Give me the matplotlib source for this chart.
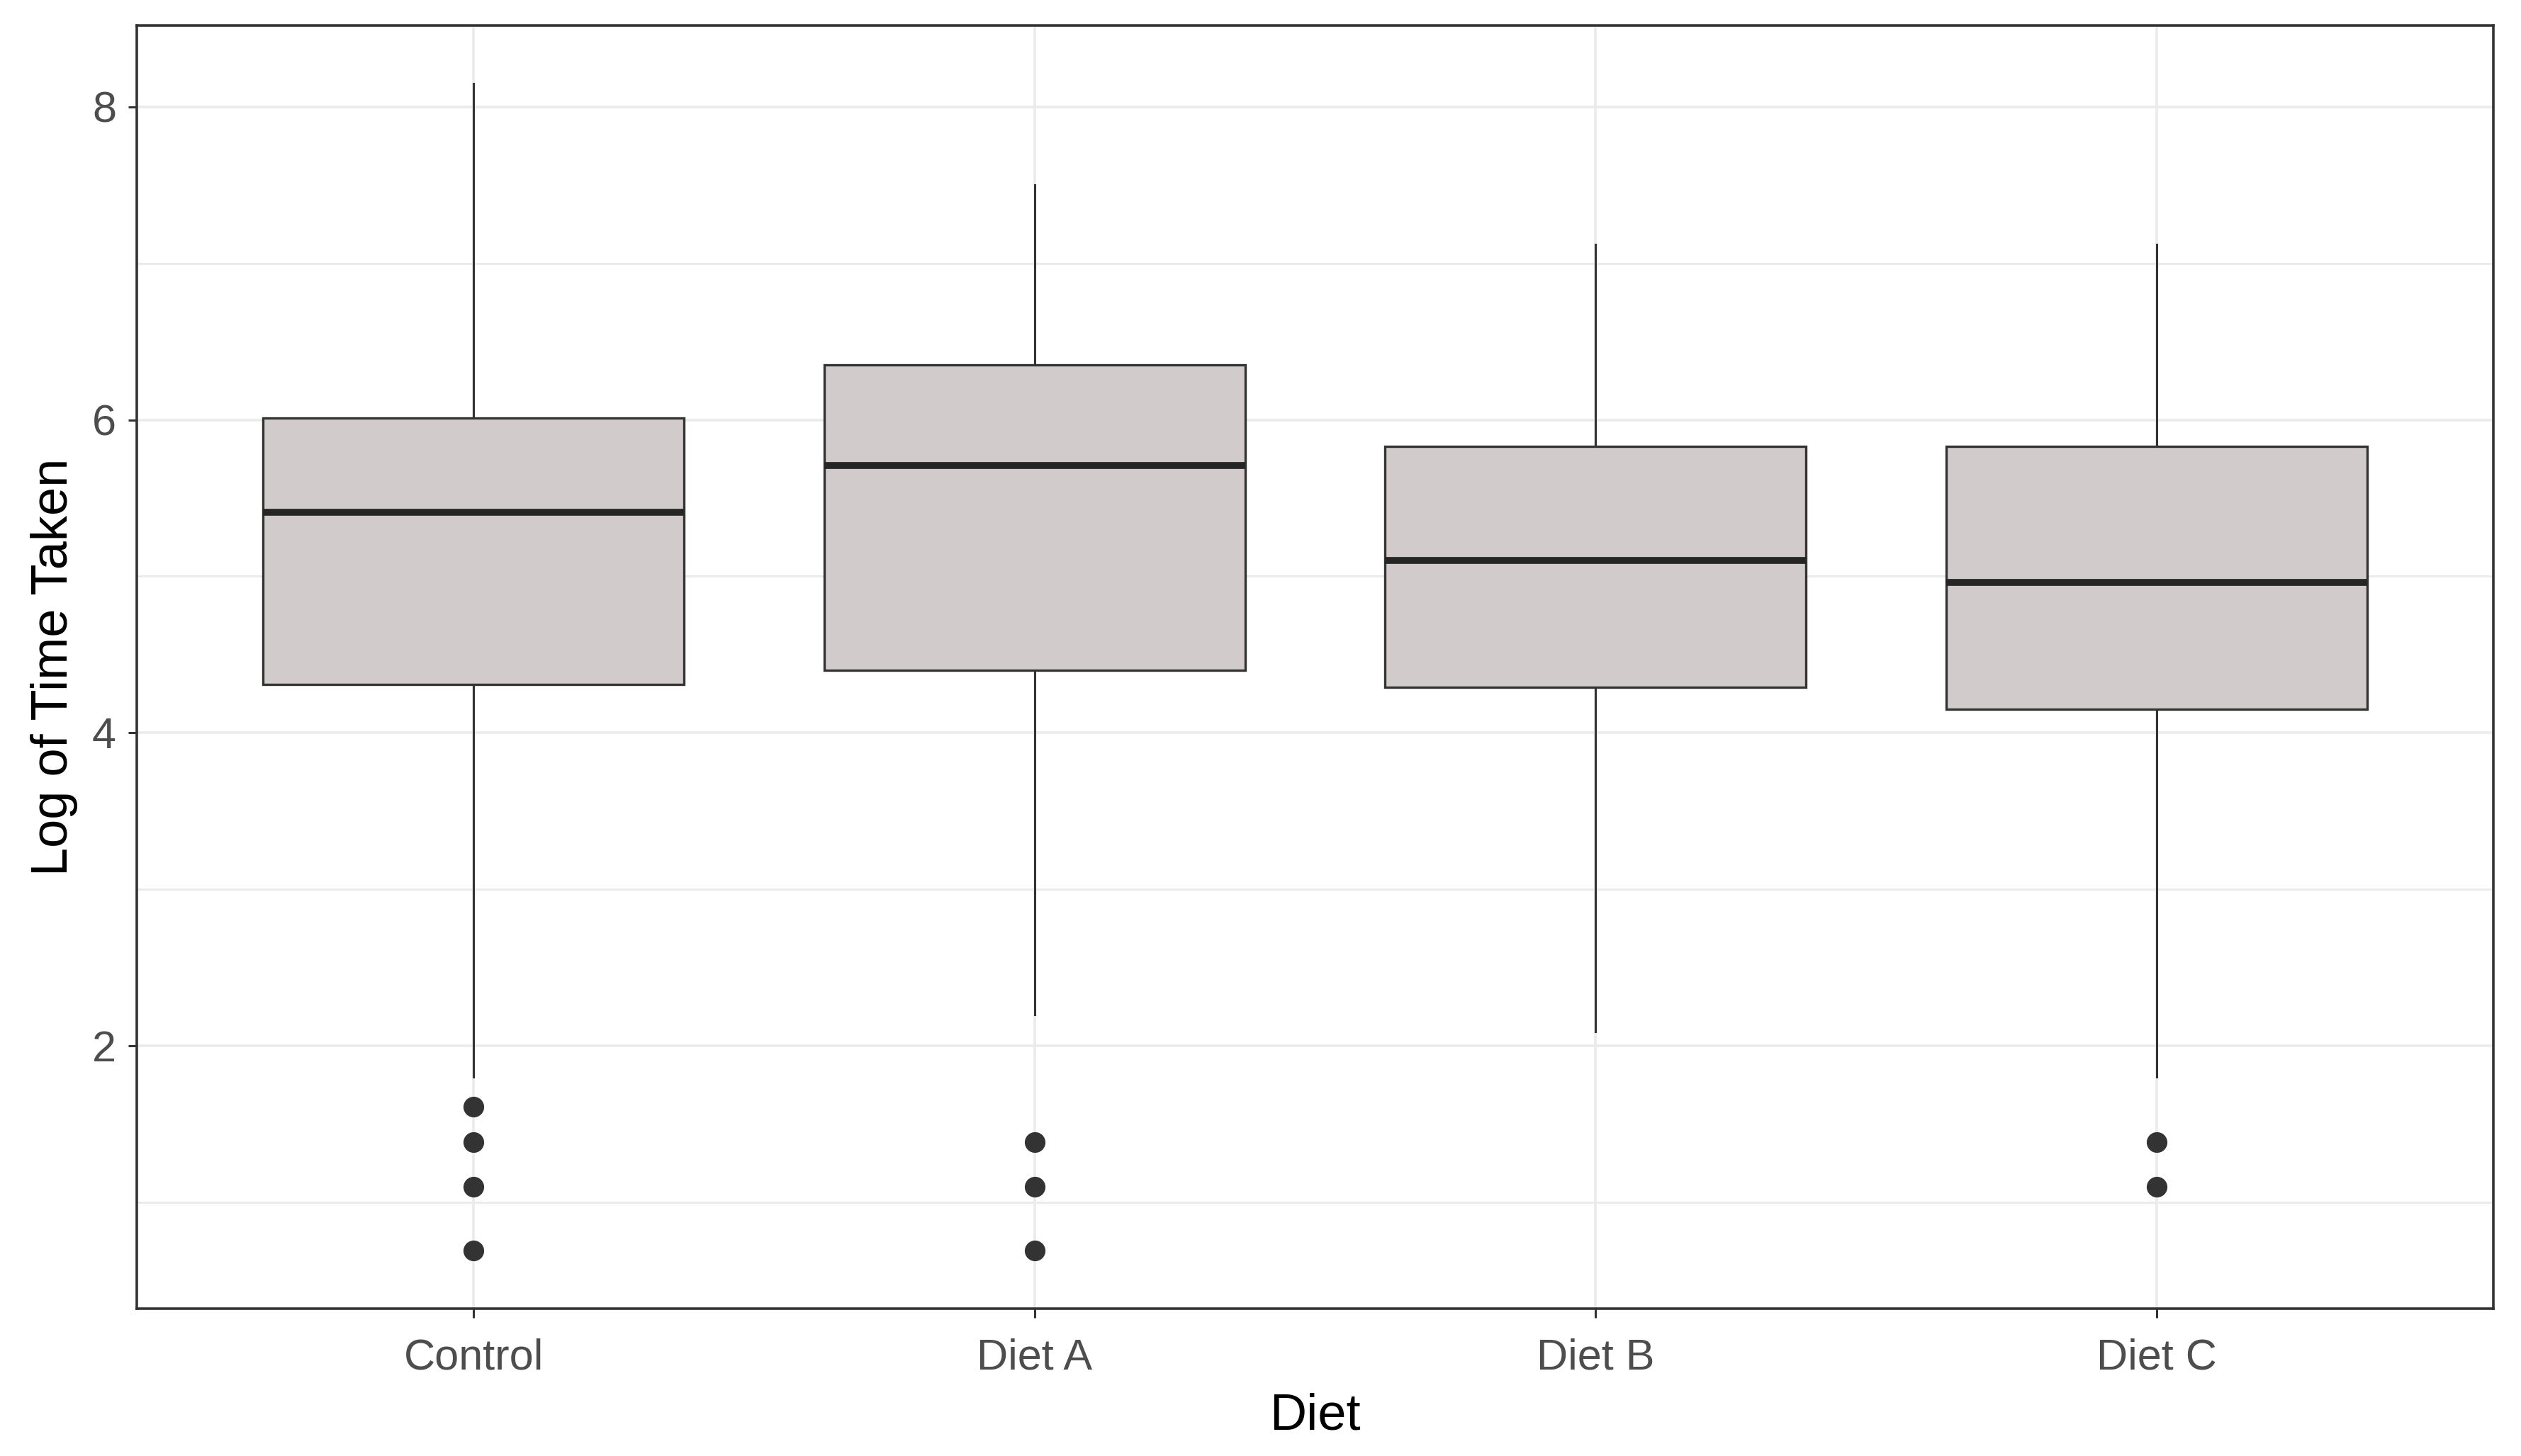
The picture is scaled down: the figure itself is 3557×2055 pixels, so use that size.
import matplotlib
matplotlib.use("Agg")
from matplotlib import pyplot as plt
import numpy as np

# Box summary values (log of time taken)
diets = ["Control", "Diet A", "Diet B", "Diet C"]
whisker_low = [1.80, 2.20, 2.09, 1.80]
q1 = [4.31, 4.40, 4.29, 4.15]
medians = [5.41, 5.71, 5.10, 4.96]
q3 = [6.01, 6.35, 5.83, 5.83]
whisker_high = [8.15, 7.50, 7.12, 7.12]
outliers = [
    [np.log(5), np.log(4), np.log(3), np.log(2)],
    [np.log(4), np.log(3), np.log(2)],
    [],
    [np.log(4), np.log(3)],
]

plt.rcParams["font.family"] = ["Liberation Sans", "DejaVu Sans"]

fig = plt.figure(figsize=(35.57, 20.55), dpi=100)
ax = fig.add_axes([0.0543, 0.1012, 0.9347, 0.8813])

stats = []
for i, name in enumerate(diets):
    stats.append({
        "label": name,
        "whislo": whisker_low[i], "q1": q1[i], "med": medians[i],
        "q3": q3[i], "whishi": whisker_high[i], "fliers": outliers[i],
    })

pos = np.arange(1, len(diets) + 1)
ax.bxp(stats, positions=pos, widths=0.75, patch_artist=True, showcaps=False,
       boxprops=dict(facecolor="#D1CBCB", edgecolor="#333333", linewidth=2.4),
       medianprops=dict(color="#262626", linewidth=7, solid_capstyle="butt"),
       whiskerprops=dict(color="#333333", linewidth=2.2),
       flierprops=dict(marker="o", markerfacecolor="#333333", markeredgecolor="#333333",
                       markersize=20, linestyle="none"),
       zorder=3)

ax.set_xlim(0.4, 4.6)
ax.set_ylim(0.32, 8.52)
ax.set_yticks([2, 4, 6, 8])
ax.set_yticks([1, 3, 5, 7], minor=True)
ax.set_xticks(pos)
ax.set_xticklabels(diets)

ax.grid(True, which="major", color="#EBEBEB", linewidth=2.6, zorder=0)
ax.grid(True, which="minor", axis="y", color="#EBEBEB", linewidth=2.2, zorder=0)
ax.set_axisbelow(True)

for s in ax.spines.values():
    s.set_color("#333333")
    s.set_linewidth(2.6)

ax.tick_params(which="major", length=9, width=2.2, color="#333333",
               labelsize=44, labelcolor="#4D4D4D", pad=10)
ax.tick_params(axis="x", pad=21)
ax.tick_params(axis="y", pad=12)
ax.tick_params(which="minor", length=0)

ax.set_xlabel("Diet", fontsize=52, labelpad=14)
ax.set_ylabel("Log of Time Taken", fontsize=52, labelpad=14)

fig.savefig("out.png", dpi=100, facecolor="white")
